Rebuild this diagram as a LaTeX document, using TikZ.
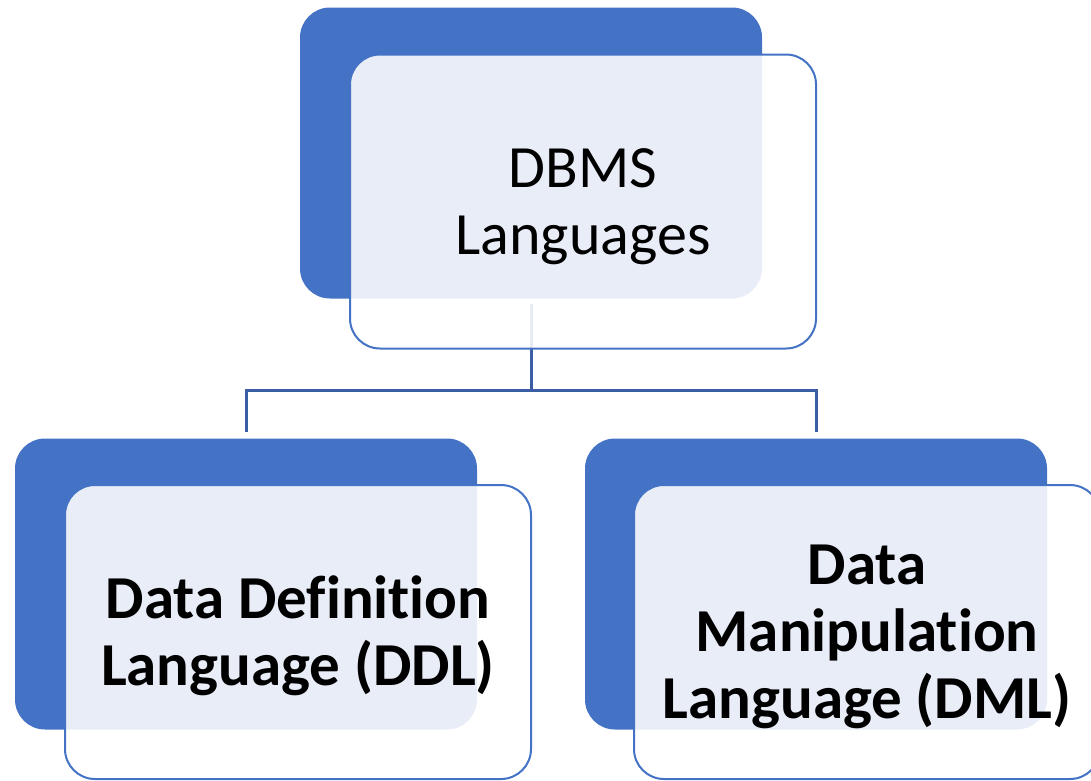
\documentclass[tikz,border=0pt]{standalone}
\usepackage{fontspec}
\setmainfont[Ligatures={NoCommon}]{Carlito}
\definecolor{accent}{HTML}{4472C4}
\definecolor{connblue}{HTML}{3A5DA3}
\tikzset{
  backbox/.style={fill=accent, draw=none, rounded corners=30pt, inner sep=0pt,
    minimum width=462pt, minimum height=291pt},
  frontbox/.style={fill=white, fill opacity=0.88, draw=accent,
    line width=2pt, rounded corners=30pt, inner sep=0pt,
    minimum width=466pt, minimum height=294pt},
  labeltext/.style={inner sep=0pt, align=center},
  conn/.style={draw=connblue, line width=3pt, line join=miter},
  toptext/.style={font=\fontsize{60}{67}\selectfont},
  subtext/.style={font=\fontsize{61}{67}\selectfont\bfseries}
}
\begin{document}
\begin{tikzpicture}[x=1pt,y=-1pt]
\useasboundingbox (0,0) rectangle (1091,780);
% back boxes
\node[backbox] (tb) at (531,153) {};
\node[backbox] (lb) at (246,584) {};
\node[backbox] (rb) at (816,584) {};
% connectors
\coordinate (j) at (531,390);
\draw[conn] ([yshift=-5pt]tb.south) -- (j) -| ([yshift=6pt]lb.north);
\draw[conn] (j) -| ([yshift=6pt]rb.north);
% front boxes
\node[frontbox] (tf) at (583,201.5) {};
\node[frontbox] (lf) at (298,632) {};
\node[frontbox] (rf) at (867,632) {};
% texts
\node[labeltext, toptext] (tft) at ([yshift=-5pt]tf.center) {DBMS\\Languages};
\node[labeltext, subtext] (lft) at ([yshift=-4pt]lf.center) {Data Definition\\Language (DDL)};
\node[labeltext, subtext] (rft) at ([yshift=-5pt]rf.center) {Data\\Manipulation\\Language (DML)};
\end{tikzpicture}
\end{document}
